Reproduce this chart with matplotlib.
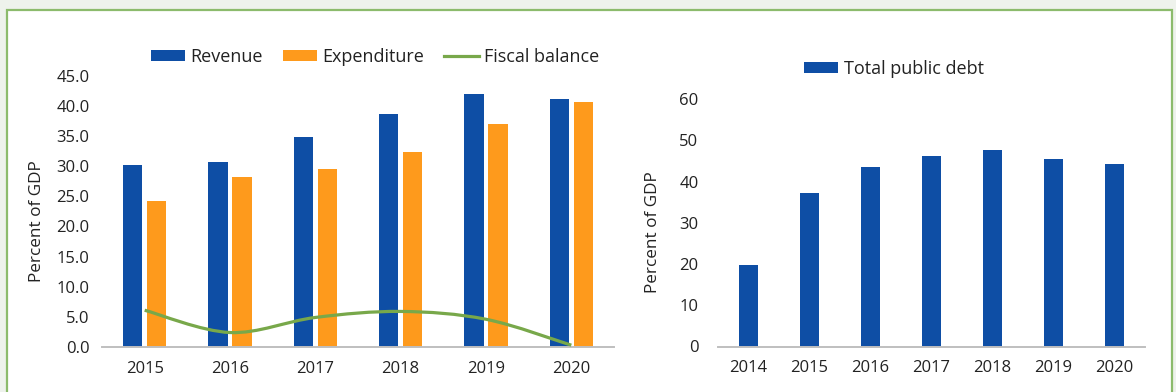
import matplotlib
matplotlib.use("Agg")
import matplotlib.pyplot as plt
import numpy as np
from matplotlib.path import Path
from matplotlib.patches import PathPatch, Rectangle
from matplotlib.lines import Line2D

# ---- data -------------------------------------------------------------
years_fiscal = ["2015", "2016", "2017", "2018", "2019", "2020"]
revenue = [30.2, 30.7, 34.8, 38.6, 42.0, 41.1]
expenditure = [24.2, 28.2, 29.5, 32.3, 37.0, 40.6]
fiscal_balance = [6.1, 2.4, 4.9, 5.9, 4.6, 0.3]

years_debt = ["2014", "2015", "2016", "2017", "2018", "2019", "2020"]
public_debt = [19.8, 37.3, 43.6, 46.2, 47.7, 45.5, 44.3]

fiscal_ticks = [0, 5, 10, 15, 20, 25, 30, 35, 40, 45]
debt_ticks = [0, 10, 20, 30, 40, 50, 60]

# ---- style ------------------------------------------------------------
BLUE = "#0e4ea5"
ORANGE = "#fe9a1c"
GREEN = "#78a84a"
AXIS = "#bfbfbf"
TEXT = "#222222"
FRAME = "#8cbb6c"
OUTER = "#eef2ec"

plt.rcParams["font.family"] = ["Open Sans", "DejaVu Sans"]
plt.rcParams["font.size"] = 12
plt.rcParams["text.color"] = TEXT

W, H = 1176, 392
fig = plt.figure(figsize=(W / 100, H / 100), dpi=100)
fig.patch.set_facecolor(OUTER)

# framed white panel behind both charts
fig.patches.append(Rectangle((7 / W, -0.05), (1172 - 7) / W, 1.05 - 10 / H,
                             transform=fig.transFigure, facecolor="white",
                             edgecolor=FRAME, linewidth=1.6, zorder=-10))

TICK_SIZE = 12
LABEL_SIZE = 12.3
LEGEND_SIZE = 13.0


def style_axes(ax):
    for s in ("top", "right", "left"):
        ax.spines[s].set_visible(False)
    ax.spines["bottom"].set_color(AXIS)
    ax.spines["bottom"].set_linewidth(1.4)
    ax.tick_params(axis="both", length=0, colors=TEXT, labelsize=TICK_SIZE)
    ax.set_facecolor("none")


def smooth_path(xs, ys):
    """Cubic Bezier path through the points (spreadsheet-style smoothing)."""
    pts = np.column_stack([xs, ys]).astype(float)
    n = len(pts)
    verts = [pts[0]]
    codes = [Path.MOVETO]
    for i in range(n - 1):
        p0 = pts[i - 1] if i > 0 else pts[i]
        p1 = pts[i]
        p2 = pts[i + 1]
        p3 = pts[i + 2] if i + 2 < n else pts[i + 1]
        c1 = p1 + (p2 - p0) / 6.0
        c2 = p2 - (p3 - p1) / 6.0
        verts += [c1, c2, p2]
        codes += [Path.CURVE4] * 3
    return Path(verts, codes)


# ---- left: revenue / expenditure / balance ----------------------------
ax1 = fig.add_axes([102 / W, 1 - 347 / H, 512 / W, (347 - 75.7) / H])
x1 = np.arange(len(years_fiscal))
bw = 0.224
off = 0.141
ax1.bar(x1 - off, revenue, bw, color=BLUE, label="Revenue", zorder=2)
ax1.bar(x1 + off, expenditure, bw, color=ORANGE, label="Expenditure", zorder=2)
ax1.add_patch(PathPatch(smooth_path(x1, fiscal_balance), facecolor="none",
                        edgecolor=GREEN, linewidth=2.3, zorder=3,
                        capstyle="butt"))
ax1.set_xlim(-0.5, len(years_fiscal) - 0.5)
ax1.set_ylim(0, 45)
ax1.set_yticks(fiscal_ticks)
ax1.set_yticklabels([f"{v:.1f}" for v in fiscal_ticks])
ax1.set_xticks(x1)
ax1.set_xticklabels(years_fiscal)
style_axes(ax1)
ax1.tick_params(axis="x", pad=10)
ax1.tick_params(axis="y", pad=9)
ax1.set_ylabel("Percent of GDP", fontsize=LABEL_SIZE, color=TEXT)
ax1.yaxis.set_label_coords(-0.112, 0.464)

h1, l1 = ax1.get_legend_handles_labels()
h1.append(Line2D([], [], color=GREEN, linewidth=2.3))
l1.append("Fiscal balance")
fig.legend(h1, l1, loc="center", bbox_to_anchor=(375 / W, 1 - 57 / H),
           ncol=3, frameon=False, fontsize=LEGEND_SIZE, handlelength=1.9,
           handleheight=0.5, handletextpad=0.3, columnspacing=1.1,
           borderpad=0.1)

# ---- right: total public debt -----------------------------------------
ax2 = fig.add_axes([718 / W, 1 - 346.5 / H, 427 / W, (346.5 - 99.3) / H])
x2 = np.arange(len(years_debt))
ax2.bar(x2, public_debt, 0.31, color=BLUE, label="Total public debt", zorder=2)
ax2.set_xlim(-0.5, len(years_debt) - 0.5)
ax2.set_ylim(0, 60)
ax2.set_yticks(debt_ticks)
ax2.set_xticks(x2)
ax2.set_xticklabels(years_debt)
style_axes(ax2)
ax2.tick_params(axis="x", pad=10)
ax2.tick_params(axis="y", pad=14)
ax2.set_ylabel("Percent of GDP", fontsize=LABEL_SIZE, color=TEXT)
ax2.yaxis.set_label_coords(-0.1335, 0.463)

h2, l2 = ax2.get_legend_handles_labels()
fig.legend(h2, l2, loc="center", bbox_to_anchor=(894 / W, 1 - 69 / H),
           frameon=False, fontsize=LEGEND_SIZE, handlelength=1.9,
           handleheight=0.5, handletextpad=0.3, borderpad=0.1)

fig.savefig("out.png", dpi=100, facecolor=fig.get_facecolor())
